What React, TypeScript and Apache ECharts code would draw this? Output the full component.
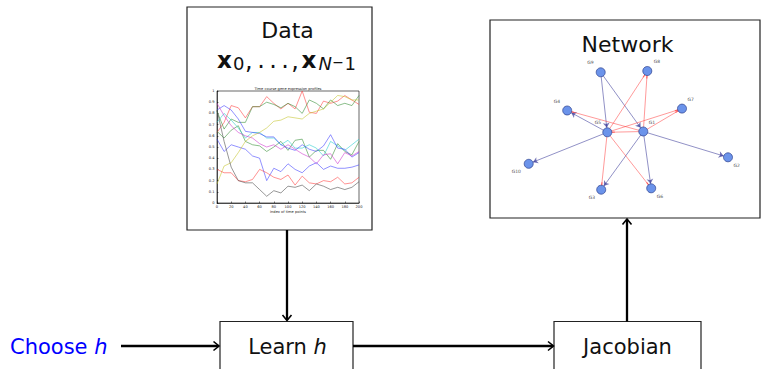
import React, { useEffect, useRef } from "react";
import * as echarts from "echarts";

// ---------- inset plot data (time-course gene expression profiles) ----------
const TIME_POINTS = [0, 10, 20, 30, 40, 50, 60, 70, 80, 90, 100, 110, 120, 130, 140, 150, 160, 170, 180, 190, 200];
const X_TICK_LABELS = ["0", "20", "40", "60", "80", "100", "120", "140", "160", "180", "200"];
const Y_TICK_LABELS = ["0", "0.1", "0.2", "0.3", "0.4", "0.5", "0.6", "0.7", "0.8", "0.9", "1"];

const RED_HIGH = [0.63, 0.72, 0.87, 0.85, 0.76, 0.86, 0.86, 0.95, 0.89, 0.84, 0.89, 0.84, 1.0, 0.81, 0.8, 0.91, 0.89, 0.91, 0.96, 0.92, 0.88];
const GREEN_HIGH = [0.82, 0.66, 0.75, 0.72, 0.72, 0.86, 0.86, 0.9, 0.88, 0.85, 0.89, 0.86, 0.8, 0.92, 0.89, 0.84, 0.92, 0.87, 0.89, 0.87, 0.96];
const GREEN_MID = [0.64, 0.58, 0.65, 0.69, 0.55, 0.52, 0.51, 0.46, 0.5, 0.55, 0.47, 0.56, 0.57, 0.41, 0.47, 0.47, 0.39, 0.53, 0.46, 0.43, 0.55];
const CYAN = [0.72, 0.8, 0.74, 0.67, 0.58, 0.63, 0.63, 0.58, 0.58, 0.52, 0.56, 0.49, 0.49, 0.52, 0.49, 0.42, 0.55, 0.51, 0.47, 0.52, 0.57];
const BLUE_HIGH = [0.83, 0.87, 0.83, 0.75, 0.64, 0.63, 0.62, 0.59, 0.59, 0.52, 0.49, 0.47, 0.52, 0.48, 0.46, 0.51, 0.61, 0.49, 0.48, 0.41, 0.45];
const MAGENTA = [0.89, 0.78, 0.69, 0.63, 0.6, 0.58, 0.53, 0.5, 0.52, 0.48, 0.52, 0.48, 0.44, 0.41, 0.35, 0.43, 0.44, 0.35, 0.45, 0.42, 0.46];
const BLUE_LOW = [0.57, 0.46, 0.52, 0.5, 0.48, 0.42, 0.4, 0.2, 0.31, 0.28, 0.35, 0.3, 0.27, 0.33, 0.36, 0.3, 0.33, 0.31, 0.31, 0.32, 0.34];
const YELLOW = [0.17, 0.33, 0.36, 0.45, 0.55, 0.6, 0.63, 0.67, 0.73, 0.74, 0.77, 0.76, 0.75, 0.8, 0.82, 0.84, 0.9, 0.96, 0.95, 0.92, 0.92];
const RED_LOW = [0.3, 0.27, 0.27, 0.2, 0.19, 0.21, 0.3, 0.27, 0.23, 0.21, 0.25, 0.16, 0.24, 0.18, 0.17, 0.2, 0.19, 0.23, 0.17, 0.18, 0.23];
const GRAY = [0.83, 0.55, 0.32, 0.2, 0.18, 0.18, 0.12, 0.06, 0.11, 0.09, 0.15, 0.14, 0.16, 0.11, 0.17, 0.15, 0.12, 0.14, 0.12, 0.14, 0.19];

const PROFILE_SERIES = [RED_HIGH, GREEN_HIGH, GREEN_MID, CYAN, BLUE_HIGH, MAGENTA, BLUE_LOW, YELLOW, RED_LOW, GRAY];
const PROFILE_COLORS = ["#ff3b3b", "#2e8b2e", "#2e8b2e", "#22cccc", "#3b3bff", "#cc33cc", "#3b3bff", "#c4c42a", "#ff3b3b", "#444444"];

// ---------- network data ----------
const NODE_NAMES = ["G1", "G2", "G3", "G4", "G5", "G6", "G7", "G8", "G9", "G10"];
const NODE_X = [643.3, 728, 601.2, 567.2, 607.3, 651.2, 682, 647.3, 600.7, 528.7];
const NODE_Y = [131.5, 157.3, 189.7, 110.5, 132.3, 188.3, 108.6, 71, 72.3, 163.8];
const ACTIVATING_EDGES = [
  ["G9", "G5"], ["G9", "G1"], ["G5", "G4"], ["G5", "G10"], ["G1", "G2"], ["G1", "G3"], ["G1", "G6"],
];
const INHIBITING_EDGES = [
  ["G1", "G4"], ["G5", "G8"], ["G1", "G8"], ["G5", "G7"], ["G1", "G7"], ["G1", "G5"], ["G5", "G3"], ["G5", "G6"],
];

// label offsets (style)
const LABEL_OFFSETS: Record<string, number[]> = {
  G1: [9, -9], G2: [9, 9], G3: [-9, 8], G4: [-10, -9], G5: [-9, -9],
  G6: [9, 9], G7: [9, -9], G8: [10, -9], G9: [-10, -9], G10: [-12, 8],
};

const FONT = "DejaVu Sans";
const TBAR = "path://M0 0H10V3H0ZM4 3H6V10H4Z";
const NODE_SIZE = 9;

function arrowHead(x: number, y: number, dir: "right" | "down" | "up") {
  let pts: number[][];
  if (dir === "right") pts = [[x - 5.5, y - 4.5], [x, y], [x - 5.5, y + 4.5]];
  else if (dir === "down") pts = [[x - 4.5, y - 5.5], [x, y], [x + 4.5, y - 5.5]];
  else pts = [[x - 4.5, y + 5.5], [x, y], [x + 4.5, y + 5.5]];
  return {
    type: "polyline",
    shape: { points: pts },
    style: { stroke: "#000", lineWidth: 1.6, fill: "none" },
    z: 10,
  };
}

function line(x1: number, y1: number, x2: number, y2: number, w = 2.3) {
  return {
    type: "line",
    shape: { x1, y1, x2, y2 },
    style: { stroke: "#000", lineWidth: w },
    z: 10,
  };
}

function rect(x: number, y: number, width: number, height: number) {
  return {
    type: "rect",
    shape: { x, y, width, height },
    style: { stroke: "#222", lineWidth: 1.2, fill: "none" },
    z: 9,
  };
}

function text(t: string, x: number, y: number, fontSize: number, extra: any = {}) {
  return {
    type: "text",
    x,
    y,
    style: {
      text: t,
      fontSize,
      fontFamily: FONT,
      fill: "#111",
      align: "center",
      verticalAlign: "middle",
      ...extra,
    },
    z: 11,
  };
}

export default function App() {
  const ref = useRef<HTMLDivElement>(null);

  useEffect(() => {
    if (!ref.current) return;
    const chart = echarts.init(ref.current, undefined, { renderer: "svg" });

    const lineSeries = PROFILE_SERIES.map((vals, i) => ({
      type: "line",
      name: "profile " + (i + 1),
      data: vals.map((v, j) => [TIME_POINTS[j], v]),
      showSymbol: false,
      symbol: "none",
      silent: true,
      lineStyle: { color: PROFILE_COLORS[i], width: 0.8, opacity: 0.7 },
      itemStyle: { color: PROFILE_COLORS[i] },
      z: 2,
    }));

    const nodes = NODE_NAMES.map((n, i) => ({
      name: n,
      x: NODE_X[i],
      y: NODE_Y[i],
      label: {
        show: true,
        position: [NODE_SIZE / 2 + LABEL_OFFSETS[n][0], NODE_SIZE / 2 + LABEL_OFFSETS[n][1]],
        align: "center",
        verticalAlign: "middle",
        formatter: n,
        fontSize: 4.5,
        color: "#555555",
        fontFamily: FONT,
      },
    }));

    const links = [
      ...ACTIVATING_EDGES.map(([s, t]) => ({
        source: s,
        target: t,
        symbol: ["none", "arrow"],
        symbolSize: [0, 5],
        lineStyle: { color: "#2a2a90", opacity: 0.65, width: 0.8 },
      })),
      ...INHIBITING_EDGES.map(([s, t]) => ({
        source: s,
        target: t,
        symbol: ["none", TBAR],
        symbolSize: [0, 6],
        lineStyle: { color: "#ff2a2a", opacity: 0.6, width: 0.8 },
      })),
    ];

    const graphSeries = {
      type: "graph",
      layout: "none",
      left: Math.min(...NODE_X),
      top: Math.min(...NODE_Y),
      width: Math.max(...NODE_X) - Math.min(...NODE_X),
      height: Math.max(...NODE_Y) - Math.min(...NODE_Y),
      roam: false,
      silent: true,
      symbol: "circle",
      symbolSize: NODE_SIZE,
      itemStyle: { color: "#6b93ea", borderColor: "#2b3f8c", borderWidth: 0.7 },
      data: nodes,
      links,
      z: 3,
    };

    const axisCommon = {
      axisLine: { show: true, lineStyle: { color: "#000", width: 0.6 } },
      axisTick: { show: true, inside: true, length: 1.5, lineStyle: { color: "#000", width: 0.5 } },
      splitLine: { show: false },
    };

    const option: any = {
      animation: false,
      backgroundColor: "#fff",
      title: {
        text: "Time course gene expression profiles",
        left: 288,
        top: 86.5,
        textAlign: "center",
        padding: 0,
        textStyle: { fontSize: 3.6, fontWeight: "normal", color: "#222", fontFamily: FONT },
      },
      grid: {
        left: 217,
        top: 91,
        width: 142,
        height: 112,
        show: true,
        borderColor: "#000",
        borderWidth: 0.6,
        backgroundColor: "transparent",
      },
      xAxis: {
        type: "value",
        min: 0,
        max: 200,
        interval: 20,
        ...axisCommon,
        axisLabel: {
          fontSize: 3.6,
          margin: 2,
          color: "#222",
          fontFamily: FONT,
          formatter: (v: number) => X_TICK_LABELS[Math.round(v / 20)] ?? String(v),
        },
        name: "Index of time points",
        nameLocation: "middle",
        nameGap: 7,
        nameTextStyle: { fontSize: 3.6, color: "#222", fontFamily: FONT },
      },
      yAxis: {
        type: "value",
        min: 0,
        max: 1,
        interval: 0.1,
        ...axisCommon,
        axisLabel: {
          fontSize: 3.6,
          margin: 2.5,
          color: "#222",
          fontFamily: FONT,
          formatter: (v: number) => Y_TICK_LABELS[Math.round(v * 10)] ?? String(v),
        },
      },
      series: [...lineSeries, graphSeries],
      graphic: [
        // boxes
        rect(187, 7, 185, 223),
        rect(490, 20, 270, 198),
        rect(220, 321.5, 133, 60),
        rect(554, 321.5, 147, 60),
        // titles
        text("Data", 287.5, 30.7, 22),
        text("Network", 627.5, 44, 22),
        // math x_0, ..., x_{N-1}
        text("x", 224.5, 59.5, 23, { fontWeight: "bold" }),
        text("0", 238.6, 63, 18),
        text(",", 248.8, 61, 24),
        text(".", 261, 60, 24),
        text(".", 273, 60, 24),
        text(".", 285, 60, 24),
        text(",", 295, 61, 24),
        text("x", 309, 59.5, 23, { fontWeight: "bold" }),
        text("N", 325.2, 63, 18, { fontStyle: "italic" }),
        text("−", 338.2, 62, 14),
        text("1", 350.2, 63, 18),
        // box labels
        {
          type: "text",
          x: 287.5,
          y: 346.5,
          style: {
            text: "{n|Learn }{i|h}",
            align: "center",
            verticalAlign: "middle",
            rich: {
              n: { fontSize: 21, fontFamily: FONT, fill: "#111" },
              i: { fontSize: 21, fontFamily: FONT, fill: "#111", fontStyle: "italic" },
            },
          },
          z: 11,
        },
        text("Jacobian", 627.5, 346.5, 21),
        {
          type: "text",
          x: 10,
          y: 346.5,
          style: {
            text: "{n|Choose }{i|h}",
            align: "left",
            verticalAlign: "middle",
            rich: {
              n: { fontSize: 21, fontFamily: FONT, fill: "#0000ff" },
              i: { fontSize: 21, fontFamily: FONT, fill: "#0000ff", fontStyle: "italic" },
            },
          },
          z: 11,
        },
        // arrows
        line(287, 230, 287, 320),
        arrowHead(287, 320.5, "down"),
        line(121, 346, 218.5, 346),
        arrowHead(219, 346, "right"),
        line(353, 346, 553, 346),
        arrowHead(553.5, 346, "right"),
        line(627, 321.5, 627, 219.5),
        arrowHead(627, 219, "up"),
      ],
    };

    chart.setOption(option);
    return () => chart.dispose();
  }, []);

  return (
    <div
      ref={ref}
      style={{ position: "absolute", left: 0, top: 0, width: 762, height: 369 }}
    />
  );
}
